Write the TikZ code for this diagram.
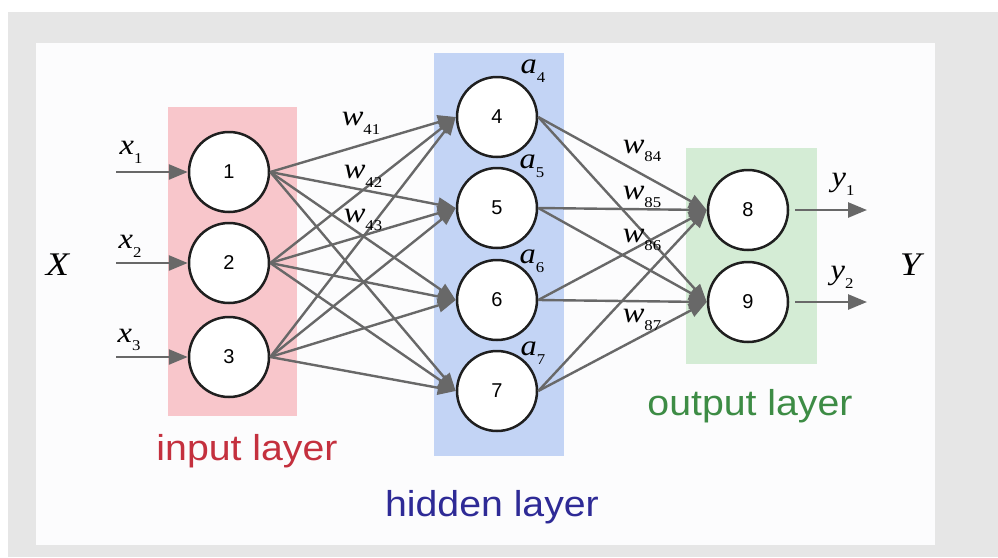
\documentclass[tikz,border=0pt]{standalone}
\usepackage{fontspec}
\setmainfont{Liberation Serif}
\newfontfamily\arialf{Liberation Sans}
\usetikzlibrary{arrows.meta}
\definecolor{bggray}{HTML}{E6E6E6}
\definecolor{panelw}{HTML}{FCFCFD}
\definecolor{pinkl}{HTML}{F8C6CB}
\definecolor{bluel}{HTML}{C3D4F5}
\definecolor{greenl}{HTML}{D4ECD5}
\definecolor{linegray}{HTML}{686868}
\definecolor{inred}{HTML}{C4303E}
\definecolor{hidblue}{HTML}{2E2A96}
\definecolor{outgreen}{HTML}{3D8C45}
\newcommand\mylab[2]{\scalebox{1.12}[1]{\textit{#1}\raisebox{-0.3em}{\fontsize{15}{15}\selectfont #2}}}
\newcommand\mylayer[1]{\scalebox{1.09}[1]{#1}}
\begin{document}
\begin{tikzpicture}[x=1pt,y=-1pt,
  neuron/.style={circle,draw=black!88,line width=2.5pt,fill=white,minimum size=80pt,inner sep=0pt,font=\arialf\fontsize{20}{20}\selectfont},
  conn/.style={draw=linegray,line width=2.4pt,-{Triangle[length=18pt,width=14pt]}},
  ioarrow/.style={draw=linegray,line width=2.6pt,-{Triangle[length=19pt,width=15pt]}},
  mlab/.style={font=\fontsize{29}{29}\selectfont,inner sep=0pt},
  layerlab/.style={font=\arialf\fontsize{36}{36}\selectfont,inner sep=0pt,anchor=base}
]
\useasboundingbox (0,0) rectangle (998,557);
\fill[white] (0,0) rectangle (998,557);
\fill[bggray] (8,12) rectangle (998,557);
\fill[panelw] (36,43) rectangle (935,545);
% layer boxes
\fill[pinkl] (168,107) rectangle (297,416);
\fill[bluel] (434,53) rectangle (564,456);
\fill[greenl] (686,148) rectangle (817,364);
% neurons
\node[neuron] (n1) at (229,172) {1};
\node[neuron] (n2) at (229,263) {2};
\node[neuron] (n3) at (229,357) {3};
\node[neuron] (n4) at (497,117) {4};
\node[neuron] (n5) at (497,208) {5};
\node[neuron] (n6) at (497,300) {6};
\node[neuron] (n7) at (497,391) {7};
\node[neuron] (n8) at (748,210) {8};
\node[neuron] (n9) at (748,302) {9};
% input / output arrows
\coordinate (i1) at (116,172);
\coordinate (i2) at (116,263);
\coordinate (i3) at (116,357);
\coordinate (o1) at (867,210);
\coordinate (o2) at (867,302);
\draw[ioarrow] (i1) -- (n1.west);
\draw[ioarrow] (i2) -- (n2.west);
\draw[ioarrow] (i3) -- (n3.west);
\coordinate (s8) at (795,210);
\coordinate (s9) at (795,302);
\draw[ioarrow] (s8) -- (o1);
\draw[ioarrow] (s9) -- (o2);
% connections
\foreach \a in {1,2,3}{
  \foreach \b in {4,5,6,7}{
    \draw[conn] (n\a.east) -- (n\b.west);
  }
}
\foreach \a in {4,5,6,7}{
  \foreach \b in {8,9}{
    \draw[conn] (n\a.east) -- (n\b.west);
  }
}
% labels
\node[mlab] (lx1) at (131,152) {\mylab{x}{1}};
\node[mlab] (lx2) at (130,246) {\mylab{x}{2}};
\node[mlab] (lx3) at (129,340) {\mylab{x}{3}};
\node[font=\fontsize{33}{33}\selectfont,inner sep=0pt] (lX) at (58,265) {\scalebox{1.15}[1]{\textit{X}}};
\node[font=\fontsize{33}{33}\selectfont,inner sep=0pt] (lY) at (912,265) {\scalebox{1.15}[1]{\textit{Y}}};
\node[mlab] (ly1) at (843,184) {\mylab{y}{1}};
\node[mlab] (ly2) at (842,277) {\mylab{y}{2}};
\node[mlab] (la4) at (533,71) {\mylab{a}{4}};
\node[mlab] (la5) at (532,166) {\mylab{a}{5}};
\node[mlab] (la6) at (532,261) {\mylab{a}{6}};
\node[mlab] (la7) at (533,353) {\mylab{a}{7}};
\node[mlab] (w41) at (361,123) {\mylab{w}{41}};
\node[mlab] (w42) at (363,176) {\mylab{w}{42}};
\node[mlab] (w43) at (363,220) {\mylab{w}{43}};
\node[mlab] (w84) at (642,151) {\mylab{w}{84}};
\node[mlab] (w85) at (642,197) {\mylab{w}{85}};
\node[mlab] (w86) at (642,240) {\mylab{w}{86}};
\node[mlab] (w87) at (642,320) {\mylab{w}{87}};
% layer names
\node[layerlab,text=inred] (tin) at (247,460) {\mylayer{input layer}};
\node[layerlab,text=hidblue] (thid) at (492,516) {\mylayer{hidden layer}};
\node[layerlab,text=outgreen] (tout) at (750,415) {\mylayer{output layer}};
\end{tikzpicture}
\end{document}
